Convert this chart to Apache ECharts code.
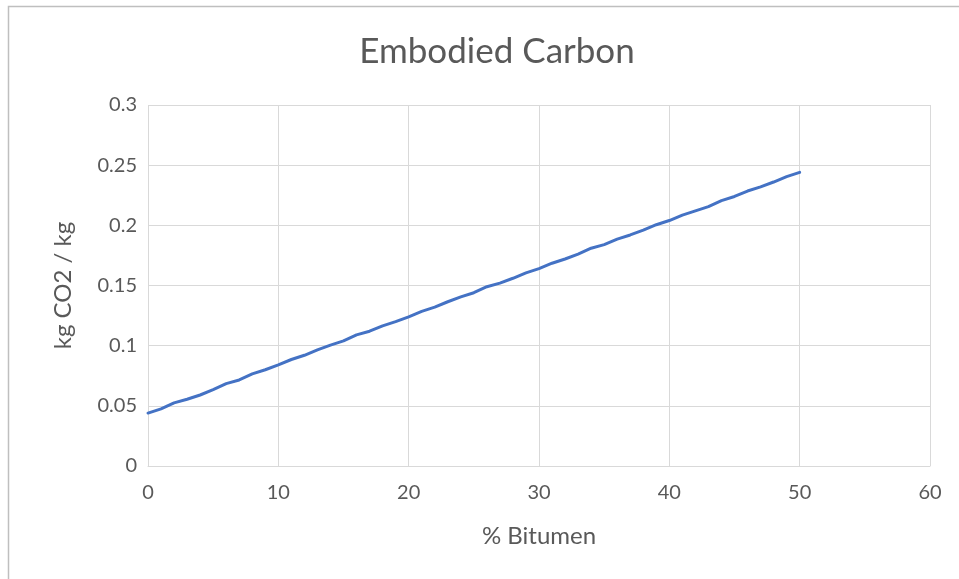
<!DOCTYPE html>
<html>
<head>
<meta charset="utf-8">
<script src="https://cdn.jsdelivr.net/npm/echarts@6/dist/echarts.min.js"></script>
<style>
  html, body { margin: 0; padding: 0; background: #ffffff; }
  #chart { width: 959px; height: 579px; }
</style>
</head>
<body>
<div id="chart"></div>
<script>
// Bitumen content (%) and embodied carbon (kg CO2 per kg)
const bitumenPct = [
  0, 1, 2, 3, 4, 5, 6, 7, 8, 9, 10,
  11, 12, 13, 14, 15, 16, 17, 18, 19, 20,
  21, 22, 23, 24, 25, 26, 27, 28, 29, 30,
  31, 32, 33, 34, 35, 36, 37, 38, 39, 40,
  41, 42, 43, 44, 45, 46, 47, 48, 49, 50
];
const carbon = [
  0.0440, 0.0475, 0.0525, 0.0555, 0.0590, 0.0635, 0.0685, 0.0715, 0.0765, 0.0800, 0.0840,
  0.0885, 0.0920, 0.0965, 0.1005, 0.1040, 0.1090, 0.1120, 0.1165, 0.1200, 0.1240,
  0.1285, 0.1320, 0.1365, 0.1405, 0.1440, 0.1490, 0.1520, 0.1560, 0.1605, 0.1640,
  0.1685, 0.1720, 0.1760, 0.1810, 0.1840, 0.1885, 0.1920, 0.1960, 0.2005, 0.2040,
  0.2085, 0.2120, 0.2155, 0.2205, 0.2240, 0.2285, 0.2320, 0.2360, 0.2405, 0.2440
];
const xTicks = [0, 10, 20, 30, 40, 50, 60];
const yTicks = [0, 0.05, 0.1, 0.15, 0.2, 0.25, 0.3];

const textColor = '#595959';
const gridColor = '#d9d9d9';
const fontFamily = 'Lato, "Open Sans", sans-serif';

const chart = echarts.init(document.getElementById('chart'), null, { renderer: 'canvas' });
chart.setOption({
  animation: false,
  backgroundColor: '#ffffff',
  graphic: [{
    type: 'rect',
    shape: { x: 8.5, y: 6.5, width: 1000, height: 700 },
    style: { fill: 'none', stroke: '#bfbfbf', lineWidth: 1.5 },
    silent: true
  }],
  title: {
    text: 'Embodied Carbon',
    left: 492,
    top: 29,
    textAlign: 'center',
    textStyle: { color: textColor, fontSize: 35, fontWeight: 'normal', fontFamily: fontFamily }
  },
  grid: { left: 148, right: 29, top: 105, bottom: 113, containLabel: false },
  xAxis: {
    type: 'value',
    min: xTicks[0],
    max: xTicks[xTicks.length - 1],
    interval: 10,
    name: '% Bitumen',
    nameLocation: 'middle',
    nameGap: 58,
    nameTextStyle: { color: textColor, fontSize: 24, fontFamily: fontFamily },
    axisLine: { show: true, lineStyle: { color: gridColor, width: 1 } },
    axisTick: { show: false },
    axisLabel: { color: textColor, fontSize: 20, margin: 17, fontFamily: fontFamily },
    splitLine: { show: true, lineStyle: { color: gridColor, width: 1 } }
  },
  yAxis: {
    type: 'value',
    min: yTicks[0],
    max: yTicks[yTicks.length - 1],
    interval: 0.05,
    name: 'kg CO2 / kg',
    nameLocation: 'middle',
    nameGap: 73,
    nameRotate: 90,
    nameTextStyle: { color: textColor, fontSize: 24, fontFamily: fontFamily },
    axisLine: { show: false },
    axisTick: { show: false },
    axisLabel: {
      color: textColor, fontSize: 20, margin: 11, fontFamily: fontFamily,
      formatter: v => String(parseFloat(v.toFixed(2)))
    },
    splitLine: { show: true, lineStyle: { color: gridColor, width: 1 } }
  },
  series: [{
    type: 'line',
    data: bitumenPct.map((x, i) => [x, carbon[i]]),
    showSymbol: false,
    smooth: false,
    lineStyle: { color: '#4472c4', width: 3, cap: 'round', join: 'round' },
    itemStyle: { color: '#4472c4' }
  }]
});
</script>
</body>
</html>
